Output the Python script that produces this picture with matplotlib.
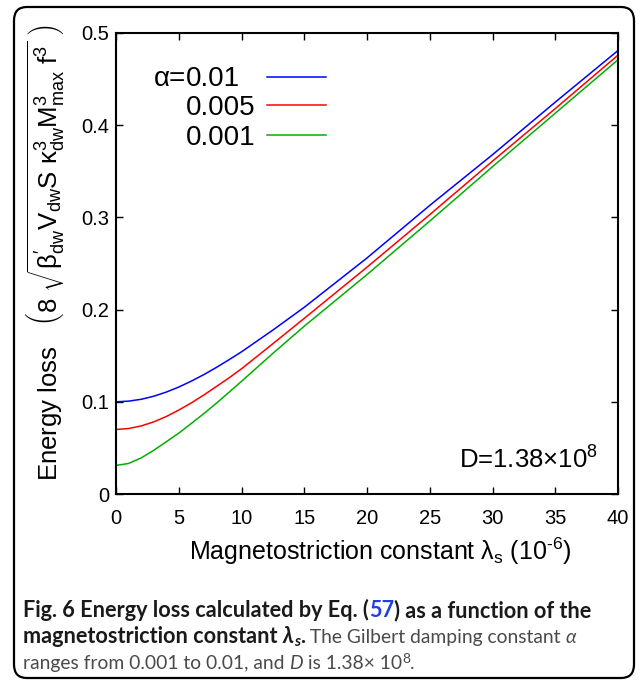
import numpy as np
import matplotlib
matplotlib.use('Agg')
import matplotlib.pyplot as plt
from matplotlib.patches import FancyBboxPatch

plt.rcParams['font.family'] = ['Liberation Sans', 'DejaVu Sans']
plt.rcParams['mathtext.fontset'] = 'custom'
plt.rcParams['mathtext.rm'] = 'Liberation Sans'
plt.rcParams['mathtext.it'] = 'Liberation Sans:italic'
plt.rcParams['mathtext.bf'] = 'Liberation Sans:bold'

# ─── Data ────────────────────────────────────────────────
lam = [0, 1, 2, 3, 4, 5, 6, 7, 8, 9, 10, 12.5, 15, 20, 25, 30, 35, 40]
e_001  = [0.100, 0.1007, 0.1027, 0.1060, 0.1105, 0.116, 0.1224, 0.1295,
          0.1373, 0.1456, 0.1542, 0.1778, 0.2025, 0.256, 0.313, 0.368, 0.425, 0.481]
e_0005 = [0.070, 0.0710, 0.0738, 0.0782, 0.0840, 0.091, 0.0988, 0.1074,
          0.1166, 0.1259, 0.1358, 0.1630, 0.1905, 0.246, 0.303, 0.361, 0.418, 0.476]
e_0001 = [0.031, 0.0331, 0.0391, 0.0473, 0.0566, 0.066, 0.0765, 0.0872,
          0.0985, 0.1103, 0.1222, 0.1525, 0.1820, 0.238, 0.296, 0.355, 0.413, 0.471]
alpha_labels = ['0.01', '0.005', '0.001']
colors = ['#0000ff', '#ff0000', '#00b000']
xticks = [0, 5, 10, 15, 20, 25, 30, 35, 40]
yticks = [0, 0.1, 0.2, 0.3, 0.4, 0.5]
ytick_labels = ['0', '0.1', '0.2', '0.3', '0.4', '0.5']

W, H = 639, 681
fig = plt.figure(figsize=(W / 100, H / 100), dpi=100)
ax = fig.add_axes([116 / W, 1 - 494 / H, 502 / W, 461 / H])

for ys, c in zip([e_001, e_0005, e_0001], colors):
    ax.plot(lam, ys, color=c, lw=1.1)

ax.set_xlim(0, 40)
ax.set_ylim(0, 0.5)
ax.set_xticks(xticks)
ax.set_yticks(yticks)
ax.set_yticklabels(ytick_labels)
ax.tick_params(direction='in', length=5, width=1, top=True, right=True,
               labelsize=14.5)
ax.tick_params(axis='x', pad=11)
ax.tick_params(axis='y', pad=5)
for s in ax.spines.values():
    s.set_linewidth(1.5)

ax.set_xlabel('Magnetostriction constant $\\mathrm{λ}_{\\mathrm{s}}$ (10$^{\\mathrm{\u2010 6}}$)',
              fontsize=18, va='center')
ax.xaxis.set_label_coords(0.527, -0.124)
ax.set_ylabel(r'Energy loss   $\left(8\ \sqrt{\mathrm{β}^{\prime}_{\mathrm{dw}}\mathrm{V}_{\mathrm{dw}}'
              r'\mathrm{S}\ \mathrm{κ}^{3}_{\mathrm{dw}}\mathrm{M}^{3}_{\mathrm{max}}\ \mathrm{f}^{3}}\ \right)$',
              fontsize=18.5, va='center')
ax.yaxis.set_label_coords(-0.141, 0.522)

# manual gnuplot-style key
line_y = [0.905, 0.844, 0.779]
text_y = [0.901, 0.838, 0.773]
for i, (lab, c) in enumerate(zip(alpha_labels, colors)):
    ax.plot([0.301, 0.418], [line_y[i], line_y[i]], color=c, lw=1.1,
            transform=ax.transAxes)
    ax.text(0.139, text_y[i], lab, transform=ax.transAxes, fontsize=20,
            ha='left', va='center')
ax.text(0.139, text_y[0], 'α=', transform=ax.transAxes, fontsize=20,
        ha='right', va='center')

ax.text(0.960, 0.0557, r'D=1.38×10$^{\mathrm{8}}$', transform=ax.transAxes,
        fontsize=18.5, ha='right', va='baseline')

# rounded frame around figure + caption
frame = FancyBboxPatch((14 / W, 1 - 678 / H), 620 / W, 671 / H,
                       boxstyle='round,pad=0,rounding_size=0.02',
                       transform=fig.transFigure, fill=False,
                       ec='black', lw=1.6)
fig.patches.append(frame)

fig.canvas.draw()
renderer = fig.canvas.get_renderer()

cap_fam = ['Lato', 'DejaVu Sans']
bold = dict(family=cap_fam, weight='bold', color='#1a1a1a')
reg = dict(family=cap_fam, weight='normal', color='#4a4a4a')
ital = dict(family=cap_fam, weight='normal', style='italic', color='#4a4a4a')
bsz = 15.6
rsz = 12.6


def put_runs(runs, x, y):
    # runs: (text, style, font size, vertical shift in px)
    for s, kw, sz, dy in runs:
        t = fig.text(x, y + dy / H, s, fontsize=sz, va='baseline',
                     ha='left', **kw)
        bb = t.get_window_extent(renderer)
        x += bb.width / W


put_runs([('Fig. 6 Energy loss calculated by Eq. (', bold, bsz, 0),
          ('57', dict(bold, color='#1f3fe0'), bsz, 0),
          (') as a function of the', bold, bsz, 0)],
         23 / W, 1 - 617 / H)
put_runs([('magnetostriction constant ', bold, bsz, 0),
          ('λ', dict(bold, style='italic'), bsz, 0),
          ('s', dict(bold, style='italic'), bsz * 0.7, -3),
          ('.', bold, bsz, 0),
          (' The Gilbert damping constant ', reg, rsz * 1.1, 0),
          ('α', ital, rsz * 1.1, 0)],
         23 / W, 1 - 643 / H)
put_runs([('ranges from 0.001 to 0.01, and ', reg, rsz * 1.1, 0),
          ('D', ital, rsz * 1.1, 0),
          (' is 1.38× 10', reg, rsz * 1.1, 0),
          ('8', reg, rsz * 0.8, 6),
          ('.', reg, rsz * 1.1, 0)],
         23 / W, 1 - 669 / H)

fig.savefig('out.png', dpi=100)
